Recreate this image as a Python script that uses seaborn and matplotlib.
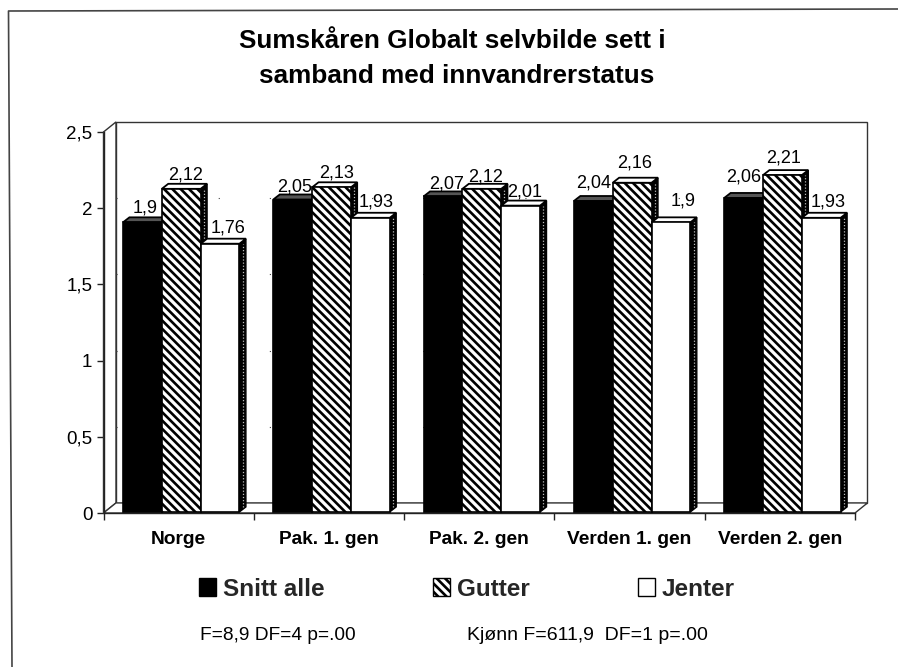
import numpy as np
import pandas as pd
import matplotlib
matplotlib.use('Agg')
import matplotlib.pyplot as plt
from matplotlib.lines import Line2D
from matplotlib.patches import Patch, Polygon, Rectangle
import seaborn as sns

# Values
groups = ['Norge', 'Pak. 1. gen', 'Pak. 2. gen', 'Verden 1. gen', 'Verden 2. gen']
series = ['Snitt alle', 'Gutter', 'Jenter']
snitt = [1.9, 2.05, 2.07, 2.04, 2.06]
gutter = [2.12, 2.13, 2.12, 2.16, 2.21]
jenter = [1.76, 1.93, 2.01, 1.9, 1.93]
y_ticks = [0, 0.5, 1, 1.5, 2, 2.5]

# Hand nudges for the value labels (pixels, from bar centre / bar top)
nudge_x = [[3, 2, 4, 0, 0], [4, 5, 4, 3, 1], [8, 6, 4, 12, 7]]
nudge_y = [14, 13, 12, 18, 21], [14, 14, 12, 20, 17], [16, 16, 14, 21, 16]

W, H = 898, 667
DX, DY = 0.083, 0.066      # depth of the floor and walls, data units
BAR_DX, BAR_DY = 0.043, 0.033   # depth of a bar

sns.set_theme(style='white')
plt.rcParams['font.family'] = ['Liberation Sans', 'DejaVu Sans']
plt.rcParams['hatch.linewidth'] = 1.9

df = pd.DataFrame({
    'group': groups * 3,
    'serie': np.repeat(series, 5),
    'value': snitt + gutter + jenter,
})

fig = plt.figure(figsize=(W / 100, H / 100), dpi=100)
ax = fig.add_axes([103.5 / W, (H - 513) / H, (855 - 103.5) / W, (513 - 132) / H])

sns.barplot(data=df, x='group', y='value', hue='serie', order=groups, hue_order=series,
            palette=['black', 'white', 'white'], width=0.775, edgecolor='black',
            linewidth=1.2, legend=False, errorbar=None, ax=ax)

ax.set_xlim(-0.5, 4.5)
ax.set_ylim(0, 2.5)
ax.set_xlabel('')
ax.set_ylabel('')

# Back wall, side wall and floor
ax.add_patch(Rectangle((-0.5 + DX, DY), 5, 2.5, fc='white', ec='#333333', lw=1, zorder=0.5, clip_on=False))
ax.add_patch(Polygon([(-0.5, 0), (-0.5 + DX, DY), (-0.5 + DX, 2.5 + DY), (-0.5, 2.5)],
                     fc='white', ec='#333333', lw=1, zorder=0.6, clip_on=False))
ax.add_patch(Polygon([(-0.5, 0), (4.5, 0), (4.5 + DX, DY), (-0.5 + DX, DY)],
                     fc='white', ec='#333333', lw=1, zorder=0.6, clip_on=False))

# Only a few specks of the gridlines survive on the scan
for t in y_ticks[1:-1]:
    ax.plot([-0.5 + DX, 4.5 + DX], [t + DY, t + DY], color='#444444', lw=0.8,
            ls=(0, (1, 45)), zorder=0.7, clip_on=False)

top_colors = ['#555555', 'white', 'white']
for i, cont in enumerate(ax.containers):
    for j, bar in enumerate(cont):
        bar.set_x(bar.get_x() + 0.017)
        bar.set_y(0.007)
        bar.set_zorder(3 + 2 * i + 1)
        bar.set_clip_on(False)
        x0, x1 = bar.get_x(), bar.get_x() + bar.get_width()
        y0, y1 = bar.get_y(), bar.get_y() + bar.get_height()
        ax.add_patch(Polygon([(x1, y0), (x1 + BAR_DX, y0 + BAR_DY), (x1 + BAR_DX, y1 + BAR_DY), (x1, y1)],
                             fc='black', ec='black', lw=1, zorder=3 + 2 * i, clip_on=False))
        ax.plot([x1 + BAR_DX / 2] * 2, [y0 + BAR_DY, y1], color='#bbbbbb', lw=0.9,
                ls=(0, (1, 1.5)), zorder=3 + 2 * i + 0.5, clip_on=False)
        ax.add_patch(Polygon([(x0, y1), (x1, y1), (x1 + BAR_DX, y1 + BAR_DY), (x0 + BAR_DX, y1 + BAR_DY)],
                             fc=top_colors[i], ec='black', lw=1.3, zorder=3 + 2 * i, clip_on=False))
        if i == 1:
            bar.set_hatch('\\\\\\\\')
        label = f'{bar.get_height():g}'.replace('.', ',')
        ax.annotate(label, ((x0 + x1) / 2, y1), xytext=(nudge_x[i][j] * 0.72, nudge_y[i][j] * 0.72),
                    textcoords='offset points', ha='center', va='center', fontsize=13,
                    color='black', zorder=20, annotation_clip=False)

sns.despine(ax=ax, top=True, right=True, left=False, bottom=False)
for side in ['left', 'bottom']:
    ax.spines[side].set_color('#222222')
    ax.spines[side].set_linewidth(1)
    ax.spines[side].set_zorder(2)

ax.set_yticks(y_ticks, [f'{t:g}'.replace('.', ',') for t in y_ticks], fontsize=13.5, color='black')
ax.tick_params(axis='y', left=True, length=5, width=1, color='#222222', pad=3)
ax.set_xticks(np.arange(-0.5, 5), [''] * 6)
ax.tick_params(axis='x', which='major', bottom=True, length=5, width=1, color='#222222')
ax.set_xticks(np.arange(5), groups, minor=True, fontsize=13.8, fontweight='bold', color='black')
ax.tick_params(axis='x', which='minor', bottom=False, length=0, pad=13)

# Title
fig.text(452.5 / W, 1 - 48 / H, 'Sumskåren Globalt selvbilde sett i', ha='center', va='baseline',
         fontsize=18.8, fontweight='bold', color='black')
fig.text(456.5 / W, 1 - 83 / H, 'samband med innvandrerstatus', ha='center', va='baseline',
         fontsize=18.8, fontweight='bold', color='black')

handles = [Patch(fc='black', ec='black'), Patch(fc='white', ec='black', hatch='\\\\\\\\'), Patch(fc='white', ec='black')]
fig.legend(handles, series, loc='center', bbox_to_anchor=(467 / W, 1 - 589 / H), ncol=3, frameon=False,
           prop={'size': 17.5, 'weight': 'bold'}, handlelength=0.7, handleheight=0.7,
           handletextpad=0.3, columnspacing=4.43)

fig.text(200 / W, 1 - 635 / H, 'F=8,9 DF=4 p=.00', ha='left', va='center', fontsize=13.8, color='black')
fig.text(467 / W, 1 - 635 / H, 'Kjønn F=611,9  DF=1 p=.00', ha='left', va='center', fontsize=14, color='black')

# Frame of the scanned page, slightly skewed: only the top and left edges are on the crop
fig.add_artist(Line2D([12 / W, 8.5 / W, 1], [0, 1 - 11 / H, 1 - 9 / H], transform=fig.transFigure,
                      color='#444444', lw=1.2))

fig.savefig('out.png', dpi=100)
